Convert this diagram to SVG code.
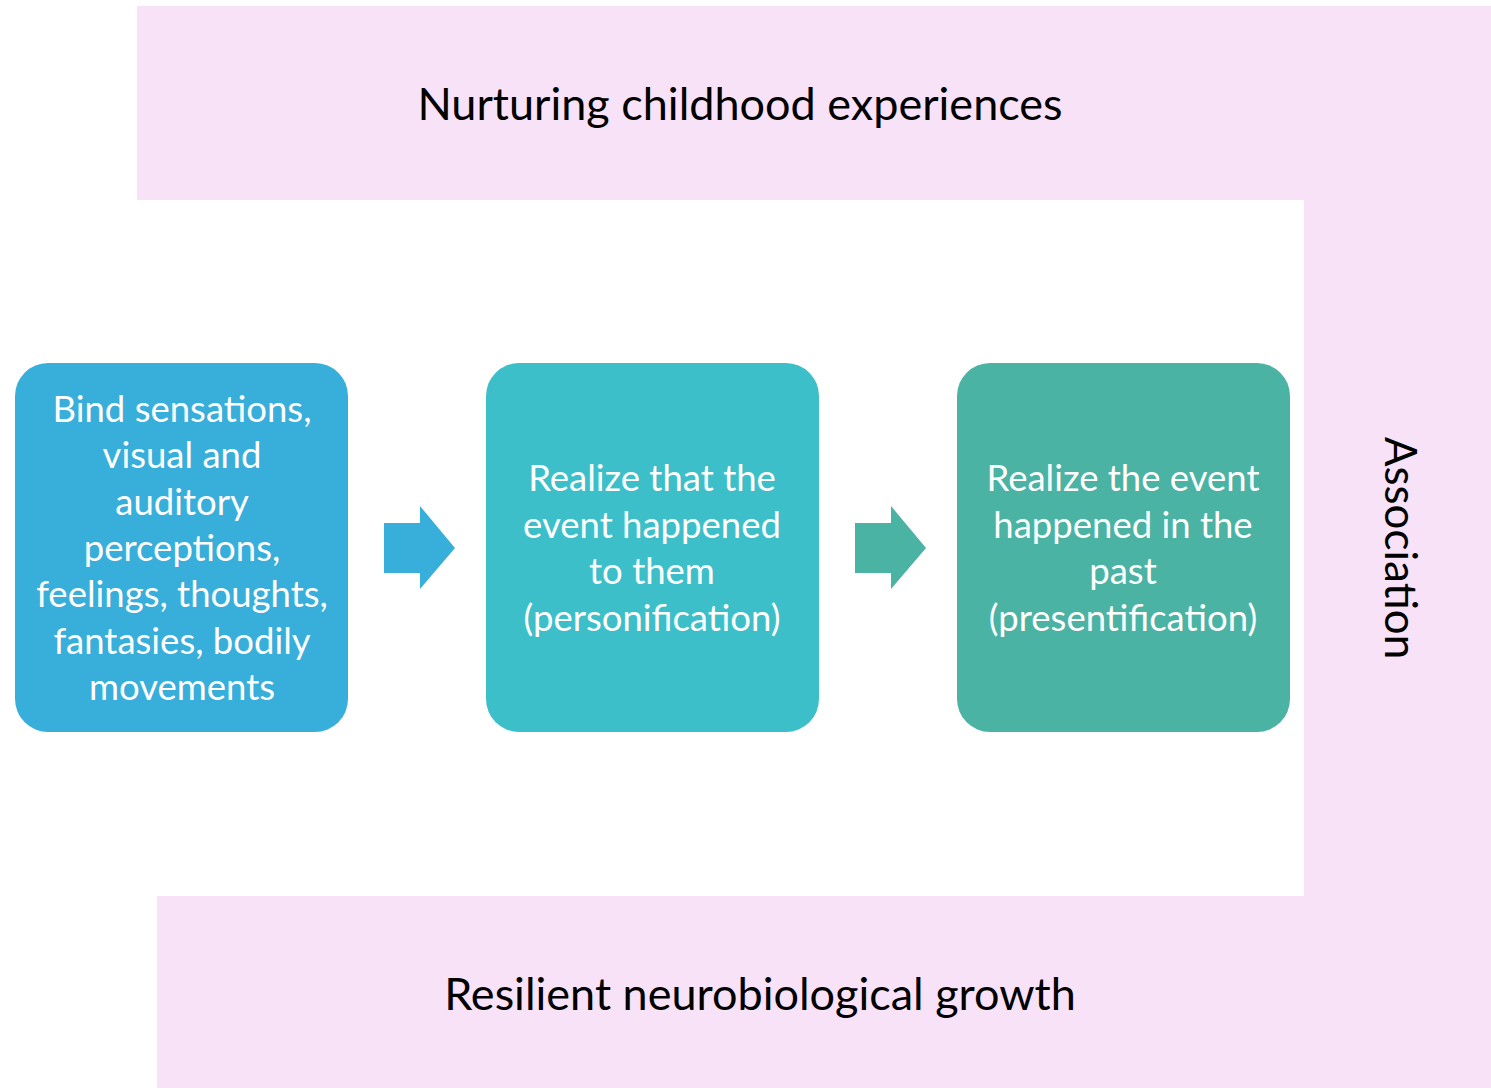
<svg xmlns="http://www.w3.org/2000/svg" width="1491" height="1088" viewBox="0 0 1491 1088">
<style>
.band{fill:#F8E2F7}
.t{font-family:Lato,"Open Sans",sans-serif;fill:#fff;font-size:36.5px;text-anchor:middle}
.big{font-family:Lato,"Open Sans",sans-serif;fill:#000;font-size:45px;text-anchor:middle}
</style>
<rect width="1491" height="1088" fill="#fff"/>
<g id="background">
<path class="band" d="M137 6H1491V1088H157V896H1304V200H137Z"/>
</g>
<g id="top-label"><text class="big" x="740" y="120">Nurturing childhood experiences</text></g>
<g id="bottom-label"><text class="big" x="760" y="1010">Resilient neurobiological growth</text></g>
<g id="side-label"><text class="big" style="font-size:44px" transform="translate(1385,548) rotate(90)">Association</text></g>
<g id="node1">
<rect x="15" y="363" width="333" height="369" rx="33" fill="#38AEDB"/>
<text class="t" x="182" y="422">Bind sensations,</text>
<text class="t" x="182" y="468">visual and</text>
<text class="t" x="182" y="515">auditory</text>
<text class="t" x="182" y="561">perceptions,</text>
<text class="t" x="182" y="607">feelings, thoughts,</text>
<text class="t" x="182" y="654">fantasies, bodily</text>
<text class="t" x="182" y="700">movements</text>
</g>
<g id="node2">
<rect x="486" y="363" width="333" height="369" rx="33" fill="#3DBFC9"/>
<text class="t" x="652" y="491">Realize that the</text>
<text class="t" x="652" y="538">event happened</text>
<text class="t" x="652" y="584">to them</text>
<text class="t" x="652" y="631">(personification)</text>
</g>
<g id="node3">
<rect x="957" y="363" width="333" height="369" rx="33" fill="#4AB3A3"/>
<text class="t" x="1123" y="491">Realize the event</text>
<text class="t" x="1123" y="538">happened in the</text>
<text class="t" x="1123" y="584">past</text>
<text class="t" x="1123" y="631">(presentification)</text>
</g>
<g id="connectors">
<path d="M384 523H420V506L455 548L420 589V573H384Z" fill="#38AEDB"/>
<path d="M855 523H891V506L926 548L891 589V573H855Z" fill="#4AB3A3"/>
</g>
</svg>
